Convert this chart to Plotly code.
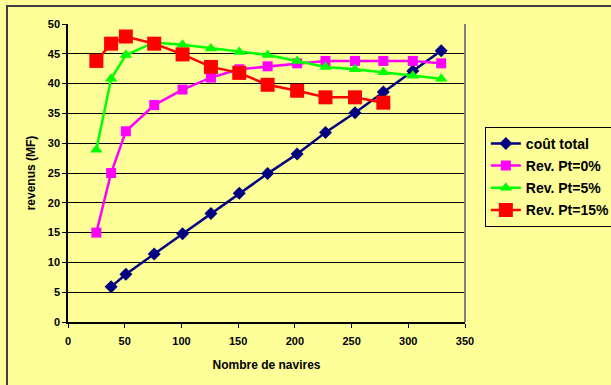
import plotly.graph_objects as go

x_cost = [38, 51, 76, 101, 126, 151, 176, 202, 227, 253, 278, 304, 329]
y_cost = [5.9, 8.0, 11.4, 14.8, 18.2, 21.6, 24.9, 28.2, 31.8, 35.1, 38.6, 42.1, 45.5]

x_p0 = [25, 38, 51, 76, 101, 126, 151, 176, 202, 227, 253, 278, 304, 329]
y_p0 = [15.0, 25.0, 32.0, 36.4, 39.0, 41.0, 42.4, 42.9, 43.4, 43.8, 43.8, 43.8, 43.8, 43.4]

x_p5 = [25, 38, 51, 76, 101, 126, 151, 176, 202, 227, 253, 278, 304, 329]
y_p5 = [28.9, 40.8, 44.8, 46.9, 46.5, 45.9, 45.3, 44.8, 43.8, 42.8, 42.4, 41.9, 41.3, 40.8]

x_p15 = [25, 38, 51, 76, 101, 126, 151, 176, 202, 227, 253, 278]
y_p15 = [43.8, 46.7, 47.9, 46.7, 44.9, 42.8, 41.8, 39.8, 38.8, 37.7, 37.7, 36.8]

names = ["coût total", "Rev. Pt=0%", "Rev. Pt=5%", "Rev. Pt=15%"]
x_ticks = [0, 50, 100, 150, 200, 250, 300, 350]
y_ticks = [0, 5, 10, 15, 20, 25, 30, 35, 40, 45, 50]

BG = "#FFFF99"
fig = go.Figure()
fig.add_trace(go.Scatter(x=x_cost, y=y_cost, name="<b>" + names[0] + "</b>", mode="lines+markers",
                         legendgroup="a",
                         line=dict(color="#000080", width=2.5),
                         marker=dict(symbol="diamond", size=10, color="#000080")))
fig.add_trace(go.Scatter(x=x_p0, y=y_p0, name="<b>" + names[1] + "</b>", mode="lines+markers",
                         legendgroup="b",
                         line=dict(color="#FF00FF", width=2.5),
                         marker=dict(symbol="square", size=10, color="#FF00FF")))
fig.add_trace(go.Scatter(x=x_p5, y=y_p5, name="<b>" + names[2] + "</b>", mode="lines+markers",
                         legendgroup="c",
                         line=dict(color="#00FF00", width=2.5),
                         marker=dict(symbol="triangle-up", size=11, color="#00FF00")))
fig.add_trace(go.Scatter(x=x_p15, y=y_p15, name="<b>" + names[3] + "</b>", mode="lines+markers",
                         legendgroup="d",
                         line=dict(color="#FF0000", width=2.5),
                         marker=dict(symbol="square", size=14, color="#FF0000")))

font_b = "Liberation Sans, Arial, sans-serif"
fig.update_layout(
    width=611, height=385,
    margin=dict(l=68, r=146, t=24, b=63, autoexpand=False),
    paper_bgcolor=BG, plot_bgcolor=BG,
    font=dict(family=font_b, size=10, color="black"),
    showlegend=True,
    legend=dict(x=1.05, y=0.655, xanchor="left", yanchor="top",
                bgcolor=BG, bordercolor="black", borderwidth=1,
                font=dict(size=14, color="black", family=font_b),
                tracegroupgap=1, itemwidth=30),
    xaxis=dict(range=[0, 350], tickvals=x_ticks, ticktext=[str(v) for v in x_ticks],
               showgrid=False, zeroline=False, showline=True, linecolor="black", linewidth=1.5,
               ticks="outside", ticklen=4, tickcolor="black", automargin=False,
               ticklabelstandoff=4,
               tickfont=dict(size=11, family=font_b, weight=700),
               title=dict(text="<b>Nombre de navires</b>", font=dict(size=12), standoff=15)),
    yaxis=dict(range=[0, 50], tickvals=y_ticks, ticktext=[str(v) for v in y_ticks],
               showgrid=True, gridcolor="black", gridwidth=1, zeroline=False,
               showline=True, linecolor="black", linewidth=1.5,
               ticks="outside", ticklen=4, tickcolor="black", automargin=False,
               tickfont=dict(size=11, family=font_b, weight=700),
               title=dict(text="<b>revenus (MF)</b>", font=dict(size=12), standoff=10)),
    shapes=[
        dict(type="line", xref="paper", yref="paper", x0=1, x1=1, y0=0, y1=1,
             line=dict(color="#808080", width=2)),
        dict(type="rect", xref="paper", yref="paper", x0=-0.1537, x1=1.6, y0=-0.4, y1=1.0604,
             line=dict(color="#404040", width=2), layer="below"),
    ],
)

fig.write_html("out.html", config={"displayModeBar": False},
               post_script="document.body.style.margin='0';document.body.style.overflow='hidden';")
